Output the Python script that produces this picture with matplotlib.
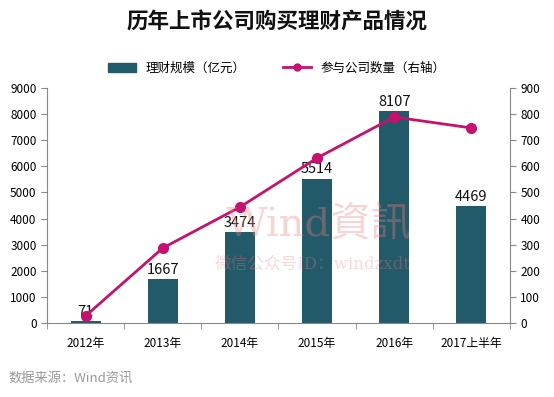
import numpy as np
import matplotlib
matplotlib.use("Agg")
import matplotlib.pyplot as plt
from matplotlib.lines import Line2D
from matplotlib.patches import Patch

plt.rcParams['font.family'] = ['Noto Sans CJK SC', 'DejaVu Sans']

years = ["2012年", "2013年", "2014年", "2015年", "2016年", "2017上半年"]
scale = [71, 1667, 3474, 5514, 8107, 4469]
companies = [27, 287, 444, 632, 789, 747]

bar_color = "#235a69"
line_color = "#c8106e"
axis_color = "#888888"

fig = plt.figure(figsize=(5.54, 3.97), dpi=100)
ax = fig.add_axes([0.0848, 0.1864, 0.8358, 0.5919])
x = np.arange(len(years))
ax.bar(x, scale, width=0.39, color=bar_color, zorder=2)
for xi, v in zip(x, scale):
    ax.text(xi, v + 100, str(v), ha="center", va="bottom", fontsize=10.5, color="#111111", zorder=5)

ax.set_xlim(-0.5, len(years) - 0.5)
ax.set_ylim(0, 9000)
ax.set_yticks(range(0, 9001, 1000))
ax.set_xticks(x)
ax.set_xticklabels(years, fontsize=8.5)
ax.set_xticks(np.arange(-0.5, len(years)), minor=True)
ax.tick_params(axis="x", which="major", length=0, pad=10)
ax.tick_params(axis="x", which="minor", length=4, color=axis_color, direction="out")
ax.tick_params(axis="y", labelsize=8.5, length=4, color=axis_color)
for s in ["top", "right"]:
    ax.spines[s].set_visible(False)
ax.spines["left"].set_color(axis_color)
ax.spines["bottom"].set_color(axis_color)

ax2 = ax.twinx()
ax2.plot(x, companies, color=line_color, lw=2, marker="o", ms=7, zorder=4)
ax2.set_ylim(0, 900)
ax2.set_yticks(range(0, 901, 100))
ax2.tick_params(axis="y", labelsize=8.5, length=4, color=axis_color)
for s in ["top", "left", "bottom"]:
    ax2.spines[s].set_visible(False)
ax2.spines["right"].set_color(axis_color)

# watermark
serif = ["DejaVu Serif", "Noto Sans CJK SC"]
fig.text(0.575, 0.435, "Wind資訊", fontsize=29, color="#f08080", alpha=0.35,
         ha="center", va="center", family=serif)
fig.text(0.565, 0.335, "微信公众号ID：windzxdt", fontsize=12, color="#f08080", alpha=0.3,
         ha="center", va="center", family=serif)

fig.text(0.5, 0.945, "历年上市公司购买理财产品情况", fontsize=15.5, fontweight="bold",
         ha="center", va="center", color="#111111")

handles = [Patch(color=bar_color, label="理财规模（亿元）"),
           Line2D([0], [0], color=line_color, lw=2, marker="o", ms=5, label="参与公司数量（右轴）")]
fig.legend(handles=handles, loc="center", bbox_to_anchor=(0.5, 0.828), ncol=2, frameon=False,
           fontsize=9, handlelength=2.2, handleheight=0.7, columnspacing=3)

fig.text(0.015, 0.048, "数据来源：Wind资讯", fontsize=9.5, color="#999999", ha="left", va="center")

fig.savefig("out.png", dpi=100)
